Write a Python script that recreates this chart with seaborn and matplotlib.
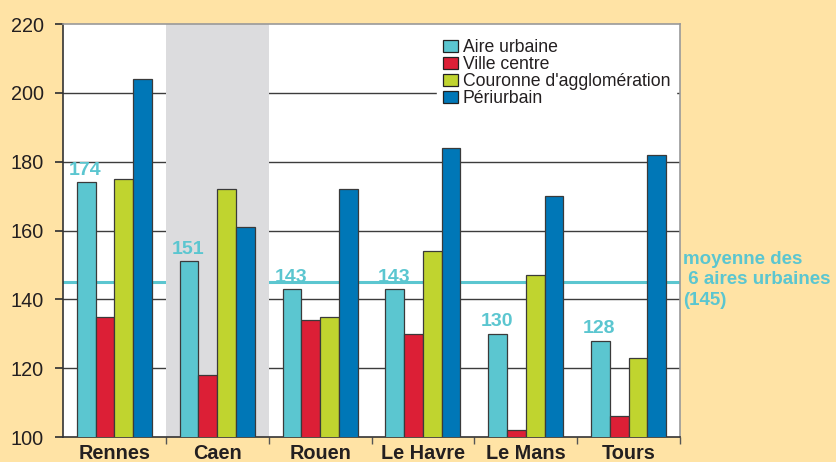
import matplotlib
matplotlib.use("Agg")
import matplotlib.pyplot as plt
import seaborn as sns
import pandas as pd
from matplotlib.patches import Patch

cities = ["Rennes", "Caen", "Rouen", "Le Havre", "Le Mans", "Tours"]
series = ["Aire urbaine", "Ville centre", "Couronne d'agglomération", "Périurbain"]
aire_urbaine = [174, 151, 143, 143, 130, 128]
ville_centre = [135, 118, 134, 130, 102, 106]
couronne = [175, 172, 135, 154, 147, 123]
periurbain = [204, 161, 172, 184, 170, 182]
label_values = ["174", "151", "143", "143", "130", "128"]
moyenne = 145
yticks = [100, 120, 140, 160, 180, 200, 220]

colors = ["#5BC6D0", "#DC1F36", "#C0D42F", "#0077B7"]
bg = "#FFE3A5"

rows = []
for s, vals in zip(series, [aire_urbaine, ville_centre, couronne, periurbain]):
    for c, v in zip(cities, vals):
        rows.append({"ville": c, "serie": s, "valeur": v})
df = pd.DataFrame(rows)

sns.set_theme(style="white")
plt.rcParams["font.family"] = ["Liberation Sans", "DejaVu Sans"]

fig = plt.figure(figsize=(8.37, 4.62), dpi=100, facecolor=bg)
ax = fig.add_axes([63/837, 25/462, (680-63)/837, (437-24)/462])
ax.set_facecolor("white")

sns.barplot(data=df, x="ville", y="valeur", hue="serie", order=cities,
            hue_order=series, palette=colors, saturation=1, width=0.73, gap=0,
            edgecolor="#3a3a3a", linewidth=0.9, ax=ax, legend=False, zorder=3)

ax.set_ylim(100, 220)
ax.set_xlim(-0.5, len(cities) - 0.5)
ax.set_yticks(yticks)
ax.set_yticklabels([str(t) for t in yticks], fontsize=14.3, color="#231f20")
ax.set_xticks(range(len(cities)))
ax.set_xticklabels(cities, fontsize=14.3, fontweight="bold", color="#231f20")
ax.tick_params(axis="x", which="major", length=0, pad=5)
ax.set_xticks([i + 0.5 for i in range(len(cities) - 1)] + [len(cities) - 0.5], minor=True)
ax.tick_params(axis="x", which="minor", length=5, color="#555555", direction="out", bottom=True)
ax.tick_params(axis="y", length=6, color="#333333", direction="out", left=True, pad=8)
ax.set_xlabel("")
ax.set_ylabel("")

# gridlines
for t in yticks[1:-1]:
    ax.axhline(t, color="#3c3c3c", lw=1.0, zorder=0.5)
# moyenne line
ax.axhline(moyenne, color="#5BC6D0", lw=2.2, zorder=0.6)
# Caen band
ax.axvspan(0.5, 1.5, color="#DCDCDE", zorder=1, lw=0)

for sp in ["top", "right"]:
    ax.spines[sp].set_color("#999999")
    ax.spines[sp].set_linewidth(1.2)
for sp in ["left", "bottom"]:
    ax.spines[sp].set_color("#333333")
    ax.spines[sp].set_linewidth(1.2)

# value labels above the "Aire urbaine" bars
cyan_bars = ax.containers[0]
for bar, lab in zip(cyan_bars, label_values):
    ax.annotate(lab, (bar.get_x() + bar.get_width() / 2 - 0.01, bar.get_height()),
                xytext=(0, 2.5), textcoords="offset points", ha="center", va="bottom",
                fontsize=14, fontweight="bold", color="#5BC6D0", zorder=5)

# annotation at right
fig.text(683/837, 1 - 280/462, "moyenne des\n 6 aires urbaines\n(145)", ha="left", va="center",
         fontsize=13.5, fontweight="bold", color="#5BC6D0", linespacing=1.25)

handles = [Patch(facecolor=c, edgecolor="#222222", lw=0.9) for c in colors]
leg = ax.legend(handles, series, loc="upper left", bbox_to_anchor=(437/837, 1 - 33/462),
                bbox_transform=fig.transFigure, fontsize=12.7, frameon=True, fancybox=False,
                framealpha=1, facecolor="white", edgecolor="white", labelspacing=0.0,
                handlelength=0.85, handleheight=0.62, handletextpad=0.25, borderpad=0.35,
                borderaxespad=0)
leg.set_zorder(4)
for t in leg.get_texts():
    t.set_color("#231f20")

fig.savefig("out.png", dpi=100, facecolor=bg)
